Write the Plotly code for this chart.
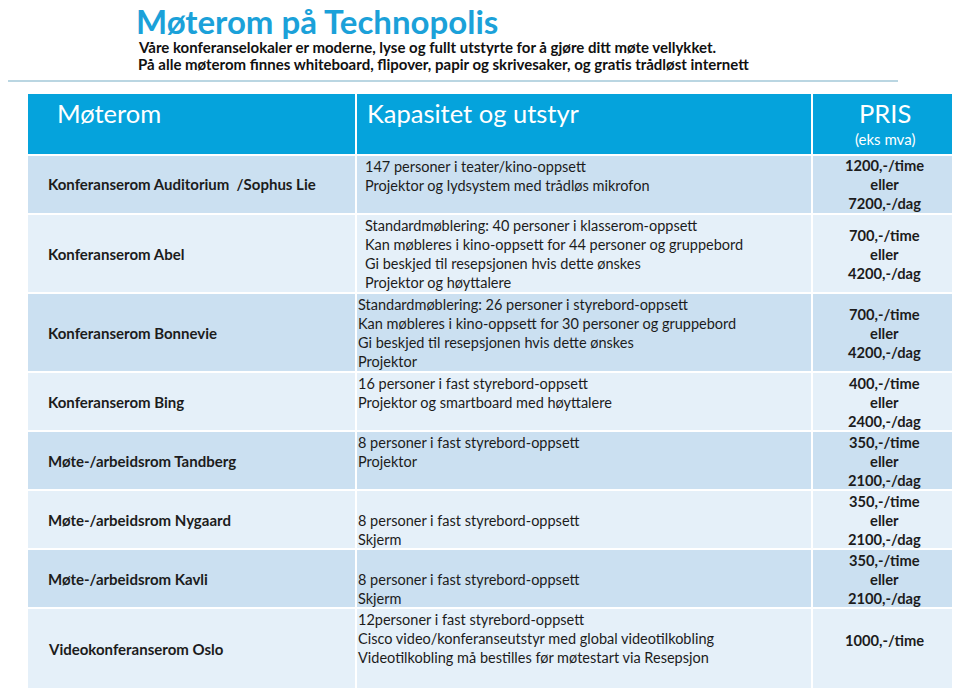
"""
Møterom på Technopolis – price table rebuilt with Plotly.
Cells are a heatmap on pixel-like axes, text sits in annotations.
"""

import plotly.graph_objects as go

# ── 1. Data ───────────────────────────────────────────────────
title = "Møterom på Technopolis"
subtitle_lines = [
    "Våre konferanselokaler er moderne, lyse og fullt utstyrte for å gjøre ditt møte vellykket.",
    "På alle møterom finnes whiteboard, flipover, papir og skrivesaker, og gratis trådløst internett",
]

header_labels = ["Møterom", "Kapasitet og utstyr", "PRIS"]
header_note = "(eks mva)"

rooms = [
    "Konferanserom Auditorium  /Sophus Lie",
    "Konferanserom Abel",
    "Konferanserom Bonnevie",
    "Konferanserom Bing",
    "Møte-/arbeidsrom Tandberg",
    "Møte-/arbeidsrom Nygaard",
    "Møte-/arbeidsrom Kavli",
    "Videokonferanserom Oslo",
]

capacity = [
    ["147 personer i teater/kino-oppsett",
     "Projektor og lydsystem med trådløs mikrofon"],
    ["Standardmøblering: 40 personer i klasserom-oppsett",
     "Kan møbleres i kino-oppsett for 44 personer og gruppebord",
     "Gi beskjed til resepsjonen hvis dette ønskes",
     "Projektor og høyttalere"],
    ["Standardmøblering: 26 personer i styrebord-oppsett",
     "Kan møbleres i kino-oppsett for 30 personer og gruppebord",
     "Gi beskjed til resepsjonen hvis dette ønskes",
     "Projektor"],
    ["16 personer i fast styrebord-oppsett",
     "Projektor og smartboard med høyttalere"],
    ["8 personer i fast styrebord-oppsett",
     "Projektor"],
    ["", "8 personer i fast styrebord-oppsett",
     "Skjerm"],
    ["", "8 personer i fast styrebord-oppsett",
     "Skjerm"],
    ["12personer i fast styrebord-oppsett",
     "Cisco video/konferanseutstyr med global videotilkobling",
     "Videotilkobling må bestilles før møtestart via Resepsjon"],
]

price_hour = ["1200", "700", "700", "400", "350", "350", "350", "1000"]
price_day = ["7200", "4200", "4200", "2400", "2100", "2100", "2100", None]

# ── 2. Layout / style ─────────────────────────────────────────
# the page body has an 8px margin, so axes run in page pixels from 8
OFF = 8
W, H = 960, 688
col_edges = [27, 356, 812, 957]
header_top, header_h = 93, 61.5
row_heights = [59.5, 79, 79, 59, 59, 59, 59, 82]
desc_indent = [365, 365, 358, 358, 358, 358, 358, 358]

TITLE_BLUE = "#1ba1d9"
HEADER_BLUE = "#05a3dc"
ROW_DARK = "#cbe0f1"
ROW_LIGHT = "#e5f0f9"
TEXT = "#1c1c1c"
FONT = "Lato"
BLANK = "\u00a0"  # keeps an empty line in multi-line annotations

row_edges = [header_top, header_top + header_h]
for h in row_heights:
    row_edges.append(row_edges[-1] + h)

# 2 = header, 0 = dark row, 1 = light row
shade = [[2, 2, 2]] + [[i % 2] * 3 for i in range(len(rooms))]

fig = go.Figure()

fig.add_trace(
    go.Heatmap(
        x=col_edges,
        y=row_edges,
        z=shade,
        zmin=0, zmax=2,
        colorscale=[[0, ROW_DARK], [0.5, ROW_LIGHT], [1, HEADER_BLUE]],
        showscale=False,
        xgap=2, ygap=2,
        hoverinfo="skip",
    )
)

ann = []

# ── Title + intro ─────────────────────────────────────────────
ann.append(dict(x=134, y=21, text=f"<b>{title}</b>", xanchor="left", yanchor="middle",
                font=dict(family=FONT, size=33, color=TITLE_BLUE)))
for i, line in enumerate(subtitle_lines):
    ann.append(dict(x=136, y=47 + 17 * i, text=f"<b>{line}</b>", xanchor="left",
                    yanchor="middle", font=dict(family=FONT, size=15, color="#111111")))

# ── Header ────────────────────────────────────────────────────
hy = 113
ann.append(dict(x=55, y=hy, text=header_labels[0], xanchor="left", yanchor="middle",
                font=dict(family=FONT, size=25.5, color="white")))
ann.append(dict(x=365, y=hy, text=header_labels[1], xanchor="left", yanchor="middle",
                font=dict(family=FONT, size=25.5, color="white")))
pris_x = (col_edges[2] + col_edges[3]) / 2
ann.append(dict(x=pris_x, y=hy, text=header_labels[2], xanchor="center", yanchor="middle",
                font=dict(family=FONT, size=25.5, color="white")))
ann.append(dict(x=pris_x, y=139, text=header_note, xanchor="center", yanchor="middle",
                font=dict(family=FONT, size=15, color="white")))

# ── Rows ──────────────────────────────────────────────────────
for i, room in enumerate(rooms):
    top, bot = row_edges[i + 1], row_edges[i + 2]
    mid = (top + bot) / 2
    ann.append(dict(x=46, y=mid, text=f"<b>{room}</b>", xanchor="left", yanchor="middle",
                    font=dict(family=FONT, size=15, color=TEXT)))
    desc = "<br>".join(line or BLANK for line in capacity[i])
    ann.append(dict(x=desc_indent[i] - 2, y=top + 1, text=desc,
                    xanchor="left", yanchor="top", align="left",
                    font=dict(family=FONT, size=14.5, color=TEXT)))
    if price_day[i]:
        price = f"{price_hour[i]},-/time<br>eller<br>{price_day[i]},-/dag"
    else:
        price = f"{price_hour[i]},-/time<br>{BLANK}"
    ann.append(dict(x=pris_x, y=mid, text=f"<b>{price}</b>", xanchor="center",
                    yanchor="middle", align="center",
                    font=dict(family=FONT, size=14.7, color=TEXT)))

for a in ann:
    a.update(xref="x", yref="y", showarrow=False)

fig.update_layout(
    width=W - OFF, height=H - OFF,
    margin=dict(l=0, r=0, t=0, b=0),
    paper_bgcolor="white",
    plot_bgcolor="white",
    annotations=ann,
    shapes=[dict(type="line", xref="x", yref="y", x0=OFF, x1=898, y0=81, y1=81,
                 line=dict(color="#a3c8d9", width=1.5))],
    xaxis=dict(range=[OFF, W], visible=False, fixedrange=True),
    yaxis=dict(range=[H, OFF], visible=False, fixedrange=True),
    showlegend=False,
)

fig.write_html("out.html")
